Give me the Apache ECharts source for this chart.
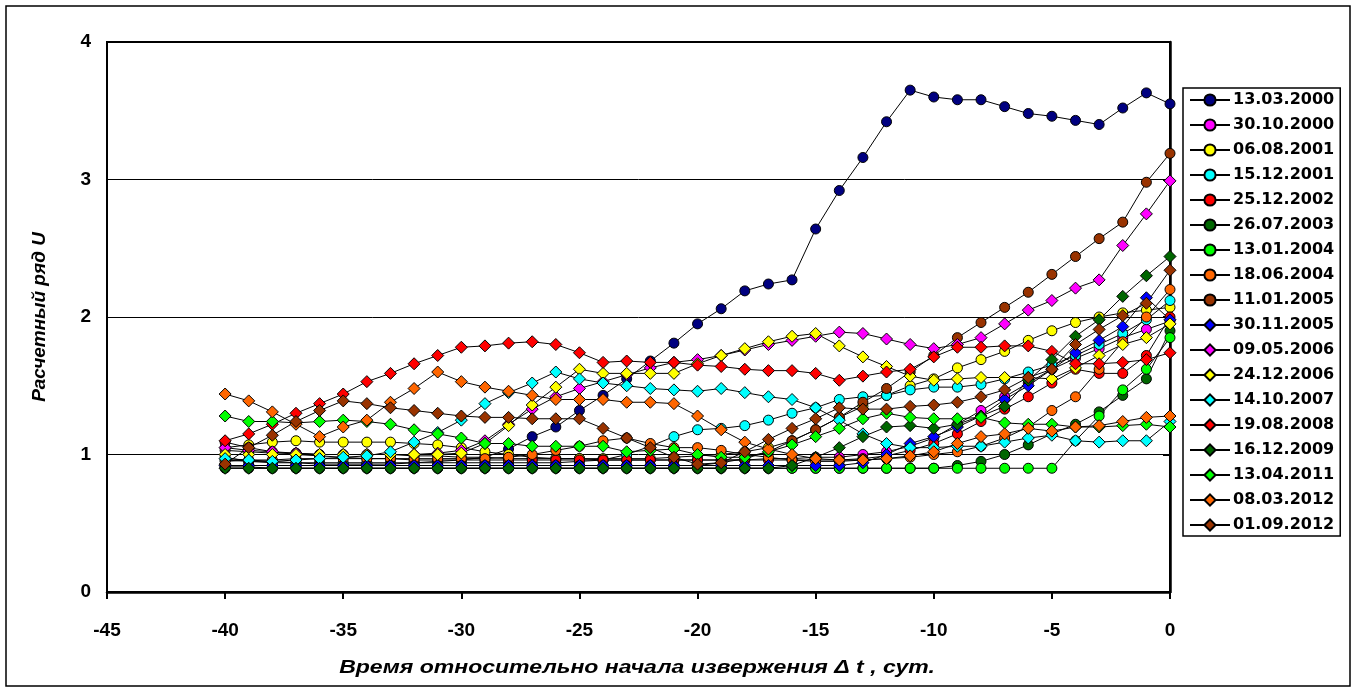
<!DOCTYPE html>
<html><head><meta charset="utf-8">
<script src="https://cdn.jsdelivr.net/npm/echarts@6/dist/echarts.min.js"></script>
<style>html,body{margin:0;padding:0;background:#fff}#c{width:1356px;height:691px}</style>
</head><body><div id="c"></div>
<script>
const xValues = [-40,-39,-38,-37,-36,-35,-34,-33,-32,-31,-30,-29,-28,-27,-26,-25,-24,-23,-22,-21,-20,-19,-18,-17,-16,-15,-14,-13,-12,-11,-10,-9,-8,-7,-6,-5,-4,-3,-2,-1,0];
const xTicks = [-45,-40,-35,-30,-25,-20,-15,-10,-5,0];
const yTicks = [0,1,2,3,4];
const xTitle = 'Время относительно начала извержения \u0394 t , сут.';
const yTitle = 'Расчетный ряд U';
const seriesNames = ['13.03.2000','30.10.2000','06.08.2001','15.12.2001','25.12.2002','26.07.2003','13.01.2004','18.06.2004','11.01.2005','30.11.2005','09.05.2006','24.12.2006','14.10.2007','19.08.2008','16.12.2009','13.04.2011','08.03.2012','01.09.2012'];

const v_13_03_2000 = [0.96,0.95,0.94,0.94,0.93,0.93,0.93,0.93,0.94,0.95,0.96,0.98,1.04,1.13,1.20,1.32,1.43,1.55,1.68,1.81,1.95,2.06,2.19,2.24,2.27,2.64,2.92,3.16,3.42,3.65,3.60,3.58,3.58,3.53,3.48,3.46,3.43,3.40,3.52,3.63,3.55];
const v_30_10_2000 = [1.03,1.02,1.01,1.01,1.00,1.00,1.00,1.00,0.99,0.99,0.98,0.98,0.97,0.97,0.97,0.97,0.96,0.96,0.96,0.96,0.96,0.96,0.96,0.97,0.97,0.98,0.98,1.00,1.02,1.06,1.12,1.22,1.32,1.42,1.52,1.62,1.70,1.77,1.85,1.91,1.97];
const v_06_08_2001 = [1.05,1.07,1.09,1.10,1.09,1.09,1.09,1.09,1.08,1.07,1.05,1.02,1.00,0.98,0.97,0.97,0.97,0.97,0.97,0.98,0.99,1.00,1.02,1.05,1.10,1.18,1.27,1.35,1.43,1.50,1.55,1.63,1.69,1.75,1.83,1.90,1.96,2.00,2.03,2.05,2.07];
const v_15_12_2001 = [0.98,0.95,0.95,0.94,0.94,0.94,0.94,0.94,0.94,0.94,0.94,0.94,0.94,0.94,0.94,0.95,0.96,1.00,1.06,1.13,1.18,1.19,1.21,1.25,1.30,1.34,1.40,1.42,1.43,1.47,1.49,1.49,1.51,1.55,1.60,1.65,1.72,1.80,1.88,1.98,2.12];
const v_25_12_2002 = [1.09,1.05,1.02,1.00,0.99,0.98,0.97,0.97,0.96,0.96,0.96,0.96,0.96,0.96,0.96,0.96,0.96,0.96,0.96,0.96,0.96,0.96,0.96,0.96,0.96,0.96,0.96,0.97,0.99,1.03,1.08,1.15,1.24,1.33,1.42,1.52,1.62,1.59,1.59,1.72,2.00];
const v_26_07_2003 = [0.90,0.90,0.90,0.90,0.90,0.90,0.90,0.90,0.90,0.90,0.90,0.90,0.90,0.90,0.90,0.90,0.90,0.90,0.90,0.90,0.90,0.90,0.90,0.90,0.90,0.90,0.90,0.90,0.90,0.90,0.90,0.92,0.95,1.00,1.07,1.15,1.22,1.31,1.43,1.55,1.90];
const v_13_01_2004 = [0.91,0.91,0.90,0.90,0.90,0.90,0.90,0.90,0.90,0.90,0.90,0.90,0.90,0.90,0.90,0.90,0.90,0.90,0.90,0.90,0.90,0.90,0.90,0.90,0.90,0.90,0.90,0.90,0.90,0.90,0.90,0.90,0.90,0.90,0.90,0.90,1.10,1.28,1.47,1.62,1.85];
const v_18_06_2004 = [0.95,0.96,0.96,0.97,0.97,0.97,0.97,0.97,0.97,0.97,0.97,0.97,0.98,1.00,1.03,1.06,1.10,1.12,1.08,1.05,1.05,1.03,1.00,0.98,0.96,0.95,0.95,0.96,0.97,0.98,1.00,1.02,1.06,1.12,1.20,1.32,1.42,1.62,1.82,2.00,2.20];
const v_11_01_2005 = [0.92,0.92,0.92,0.92,0.92,0.92,0.92,0.92,0.92,0.92,0.92,0.92,0.92,0.92,0.92,0.92,0.92,0.92,0.92,0.92,0.92,0.94,0.97,1.02,1.10,1.18,1.27,1.38,1.48,1.60,1.72,1.85,1.96,2.07,2.18,2.31,2.44,2.57,2.69,2.98,3.19];
const v_30_11_2005 = [0.92,0.92,0.92,0.92,0.92,0.92,0.92,0.92,0.92,0.92,0.92,0.92,0.92,0.92,0.92,0.92,0.92,0.92,0.92,0.92,0.92,0.92,0.92,0.92,0.92,0.92,0.92,0.94,1.00,1.08,1.13,1.20,1.28,1.40,1.50,1.62,1.74,1.83,1.93,2.14,1.98];
const v_09_05_2006 = [1.05,1.03,1.02,1.01,1.00,1.00,1.00,1.00,1.00,1.01,1.03,1.10,1.22,1.33,1.42,1.48,1.53,1.58,1.63,1.67,1.69,1.72,1.76,1.80,1.83,1.86,1.89,1.88,1.84,1.80,1.77,1.80,1.85,1.95,2.05,2.12,2.21,2.27,2.52,2.75,2.99];
const v_24_12_2006 = [1.00,1.00,1.00,1.00,1.00,1.00,1.00,1.00,1.00,1.00,1.01,1.08,1.21,1.36,1.49,1.62,1.59,1.59,1.59,1.59,1.66,1.72,1.77,1.82,1.86,1.88,1.79,1.71,1.64,1.57,1.54,1.55,1.56,1.56,1.56,1.55,1.63,1.72,1.80,1.85,1.95];
const v_14_10_2007 = [0.97,0.96,0.95,0.96,0.97,0.98,0.99,1.02,1.09,1.16,1.25,1.37,1.45,1.52,1.60,1.55,1.52,1.50,1.48,1.47,1.46,1.48,1.45,1.42,1.40,1.34,1.25,1.15,1.08,1.05,1.05,1.06,1.06,1.09,1.12,1.14,1.10,1.09,1.10,1.10,1.24];
const v_19_08_2008 = [1.10,1.15,1.22,1.30,1.37,1.44,1.53,1.59,1.66,1.72,1.78,1.79,1.81,1.82,1.80,1.74,1.67,1.68,1.67,1.67,1.65,1.64,1.62,1.61,1.61,1.59,1.54,1.57,1.60,1.62,1.71,1.78,1.78,1.79,1.79,1.75,1.66,1.66,1.67,1.69,1.74];
const v_16_12_2009 = [0.90,0.90,0.90,0.90,0.90,0.90,0.90,0.90,0.90,0.90,0.90,0.90,0.90,0.90,0.90,0.90,0.90,0.90,0.90,0.90,0.90,0.90,0.90,0.90,0.92,0.98,1.05,1.13,1.20,1.21,1.19,1.22,1.28,1.35,1.54,1.69,1.86,1.98,2.15,2.30,2.44];
const v_13_04_2011 = [1.28,1.24,1.24,1.23,1.24,1.25,1.24,1.22,1.18,1.15,1.12,1.08,1.08,1.06,1.06,1.06,1.06,1.02,1.03,1.04,1.00,0.98,0.98,1.02,1.07,1.13,1.19,1.26,1.30,1.27,1.26,1.26,1.27,1.23,1.22,1.22,1.20,1.20,1.21,1.22,1.20];
const v_08_03_2012 = [1.44,1.39,1.31,1.22,1.13,1.20,1.25,1.38,1.48,1.60,1.53,1.49,1.46,1.43,1.40,1.40,1.40,1.38,1.38,1.37,1.28,1.18,1.09,1.04,1.00,0.97,0.96,0.96,0.97,0.99,1.02,1.08,1.13,1.15,1.19,1.17,1.20,1.21,1.24,1.27,1.28];
const v_01_09_2012 = [0.93,1.05,1.14,1.24,1.32,1.39,1.37,1.34,1.32,1.30,1.28,1.27,1.27,1.26,1.26,1.26,1.19,1.12,1.05,0.98,0.93,0.94,1.02,1.11,1.19,1.26,1.34,1.33,1.33,1.35,1.36,1.38,1.42,1.47,1.56,1.62,1.80,1.91,2.01,2.10,2.34];

const seriesValues = [v_13_03_2000,v_30_10_2000,v_06_08_2001,v_15_12_2001,v_25_12_2002,v_26_07_2003,v_13_01_2004,v_18_06_2004,v_11_01_2005,v_30_11_2005,v_09_05_2006,v_24_12_2006,v_14_10_2007,v_19_08_2008,v_16_12_2009,v_13_04_2011,v_08_03_2012,v_01_09_2012];
const fills = ['#000080','#FF00FF','#FFFF00','#00FFFF','#FF0000','#006600','#00FF00','#FF6600','#993300','#0000FF','#FF00FF','#FFFF00','#00FFFF','#FF0000','#006600','#00FF00','#FF6600','#993300'];
const shapes = ['circle','circle','circle','circle','circle','circle','circle','circle','circle','diamond','diamond','diamond','diamond','diamond','diamond','diamond','diamond','diamond'];

const FONT = 'Liberation Sans, Arial, sans-serif';
const WIDE = 'DejaVu Sans, Liberation Sans, sans-serif';
const chart = echarts.init(document.getElementById('c'), null, {renderer:'canvas'});
const series = seriesNames.map((name, k) => ({
  name, type:'line',
  data: xValues.map((x,i)=>[x, seriesValues[k][i]]),
  symbol: shapes[k],
  symbolSize: shapes[k]==='circle' ? 10 : 12,
  lineStyle:{color:'#000', width:1},
  itemStyle:{color:fills[k], borderColor:'#000', borderWidth:1},
  emphasis:{disabled:true},
  animation:false
}));

chart.setOption({
  animation:false,
  backgroundColor:'#fff',
  graphic:[
    {type:'rect', shape:{x:6,y:6,width:1344,height:680}, style:{fill:'none', stroke:'#000', lineWidth:1.5}, silent:true},
    {type:'text', x:637, y:668, scaleX:1.28, silent:true,
     style:{text:xTitle, fill:'#000', font:'italic bold 18px ' + FONT, textAlign:'center', textVerticalAlign:'middle'}}
  ],
  grid:{left:107, right:186, top:42, bottom:99, show:true, borderColor:'#000', borderWidth:2, backgroundColor:'#fff'},
  xAxis:{
    type:'value', min:xTicks[0], max:xTicks[xTicks.length-1], interval:5,
    axisLine:{lineStyle:{color:'#000', width:2.5}},
    axisTick:{show:true, length:7, lineStyle:{color:'#000', width:2}},
    axisLabel:{fontFamily:FONT, fontWeight:'bold', fontSize:19, color:'#000', margin:29},
    splitLine:{show:false}
  },
  yAxis:{
    type:'value', min:yTicks[0], max:yTicks[yTicks.length-1], interval:1,
    name:yTitle, nameLocation:'middle', nameGap:58, nameRotate:90,
    nameTextStyle:{fontFamily:FONT, fontWeight:'bold', fontStyle:'italic', fontSize:19, color:'#000'},
    axisLine:{show:true, lineStyle:{color:'#000', width:2.5}},
    axisTick:{show:true, length:7, lineStyle:{color:'#000', width:2}},
    axisLabel:{fontFamily:FONT, fontWeight:'bold', fontSize:19, color:'#000', margin:16},
    splitLine:{show:true, lineStyle:{color:'#000', width:1}}
  },
  legend:{
    orient:'vertical', left:1183, top:88,
    backgroundColor:'#fff', borderColor:'#000', borderWidth:1.5, padding:[4,6,3,6],
    itemWidth:40, itemHeight:14, itemGap:9,
    textStyle:{fontFamily:WIDE, fontWeight:'bold', fontSize:16, color:'#000', padding:[0,0,0,-2]},
    data: seriesNames
  },
  series
});
</script></body></html>
